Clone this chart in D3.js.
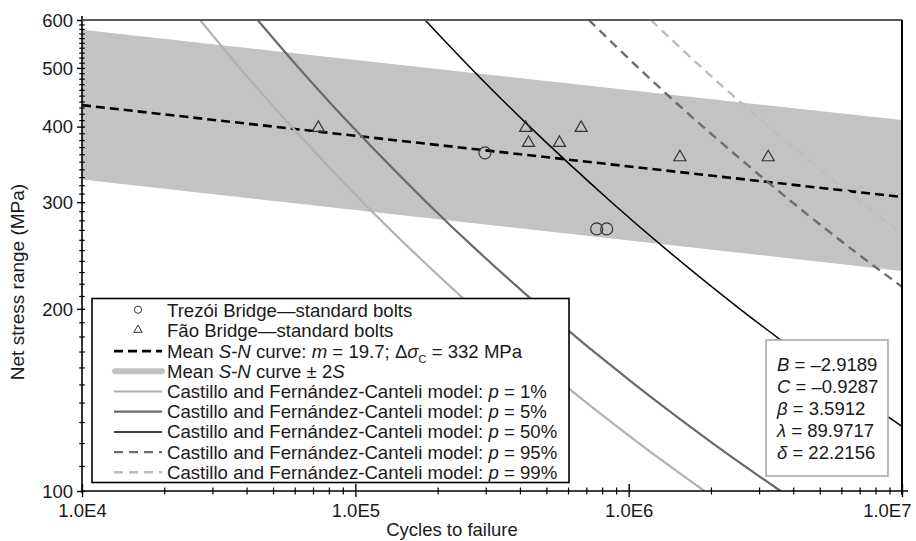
<!DOCTYPE html>
<html>
<head>
<meta charset="utf-8">
<script src="https://cdn.jsdelivr.net/npm/d3@7"></script>
<style>
  html, body { margin: 0; padding: 0; background: #fff; }
  svg { display: block; font-family: "Liberation Sans", Arial, sans-serif; }
</style>
</head>
<body>
<svg id="chart" width="916" height="541"></svg>
<script>
// ---------------- data ----------------
const xTickValues = [1e4, 1e5, 1e6, 1e7];
const xTickLabels = ["1.0E4", "1.0E5", "1.0E6", "1.0E7"];
const yTickValues = [100, 200, 300, 400, 500, 600];
const yTickLabels = ["100", "200", "300", "400", "500", "600"];

// Mean S-N curve and ±2S band (end points)
const bandN = [1e4, 1e7];
const meanS = [434, 306];
const upperS = [578, 410];
const lowerS = [327, 231];

// Test data
const trezoiN = [2.98e5, 7.64e5, 8.31e5];
const trezoiS = [362, 271, 271];
const faoN = [7.32e4, 4.20e5, 4.30e5, 5.58e5, 6.70e5, 1.54e6, 3.24e6];
const faoS = [398, 398, 376, 376, 398, 356, 356];

// Castillo and Fernández-Canteli model percentile curves [N, S]
const curveP1 = [[2.704e4, 600], [3.780e4, 500], [5.834e4, 400], [1.065e5, 300], [1.605e5, 250], [2.737e5, 200], [5.783e5, 150], [1.088e6, 120], [1.894e6, 100]];
const curveP5 = [[4.391e4, 600], [6.214e4, 500], [9.745e4, 400], [1.820e5, 300], [2.782e5, 250], [4.842e5, 200], [1.052e6, 150], [2.025e6, 120], [3.595e6, 100]];
const curveP50 = [[1.800e5, 600], [2.641e5, 500], [4.341e5, 400], [8.656e5, 300], [1.382e6, 250], [2.549e6, 200], [6.000e6, 150], [1.0e7, 127.9]];
const curveP95 = [[7.152e5, 600], [1.086e6, 500], [1.868e6, 400], [3.965e6, 300], [6.616e6, 250], [1.0e7, 217.4]];
const curveP99 = [[1.206e6, 600], [1.857e6, 500], [3.251e6, 400], [7.068e6, 300], [1.0e7, 265.9]];

const paramNames = ["B", "C", "β", "λ", "δ"];
const paramValues = ["–2.9189", "–0.9287", "3.5912", "89.9717", "22.2156"];

// ---------------- drawing ----------------
const svg = d3.select("#chart");
const X0 = 82, X1 = 902, Y0 = 491, Y1 = 20;
const x = d3.scaleLog().domain([1e4, 1e7]).range([X0, X1]);
const y = d3.scaleLog().domain([100, 600]).range([Y0, Y1]);

svg.append("defs").append("clipPath").attr("id", "plotclip")
  .append("rect").attr("x", X0).attr("y", Y1).attr("width", X1 - X0).attr("height", Y0 - Y1);

const plot = svg.append("g").attr("clip-path", "url(#plotclip)");

// band
const bandData = bandN.map((n, i) => ({ n, lo: lowerS[i], hi: upperS[i] }));
plot.append("path")
  .datum(bandData)
  .attr("fill", "#c3c3c3")
  .attr("d", d3.area().x(d => x(d.n)).y0(d => y(d.lo)).y1(d => y(d.hi)));

// mean line
plot.append("path")
  .datum(bandN.map((n, i) => [n, meanS[i]]))
  .attr("fill", "none").attr("stroke", "#000").attr("stroke-width", 2.6)
  .attr("stroke-dasharray", "9,5")
  .attr("d", d3.line().x(d => x(d[0])).y(d => y(d[1])));

const curveLine = d3.line().x(d => x(d[0])).y(d => y(d[1])).curve(d3.curveCatmullRom);
const curves = [
  { data: curveP1, color: "#b2b2b2", width: 2.2, dash: null },
  { data: curveP5, color: "#6a6a6a", width: 2.2, dash: null },
  { data: curveP50, color: "#000000", width: 1.5, dash: null },
  { data: curveP95, color: "#6e6e6e", width: 2.4, dash: "9,6" },
  { data: curveP99, color: "#bdbdbd", width: 2.4, dash: "9,6" }
];
curves.forEach(c => {
  plot.append("path").datum(c.data)
    .attr("fill", "none").attr("stroke", c.color).attr("stroke-width", c.width)
    .attr("stroke-dasharray", c.dash)
    .attr("d", curveLine);
});

// markers
plot.selectAll("circle.trezoi").data(trezoiN.map((n, i) => [n, trezoiS[i]])).join("circle")
  .attr("class", "trezoi")
  .attr("cx", d => x(d[0])).attr("cy", d => y(d[1])).attr("r", 6)
  .attr("fill", "none").attr("stroke", "#333").attr("stroke-width", 1.2);

const tri = d3.symbol().type(d3.symbolTriangle).size(64);
plot.selectAll("path.fao").data(faoN.map((n, i) => [n, faoS[i]])).join("path")
  .attr("class", "fao")
  .attr("transform", d => `translate(${x(d[0])},${y(d[1])})`)
  .attr("d", tri)
  .attr("fill", "none").attr("stroke", "#333").attr("stroke-width", 1.2);

// ---------------- axes ----------------
const FS = 18.5;
const xMinor = [];
[1e4, 1e5, 1e6].forEach(b => { for (let k = 2; k <= 9; k++) xMinor.push(b * k); });
const yMinor = [];
for (let v = 110; v < 600; v += 10) if (v % 100 !== 0) yMinor.push(v);

const gxMinor = svg.append("g").attr("transform", `translate(0,${Y0})`)
  .call(d3.axisBottom(x).tickValues(xMinor).tickFormat("").tickSizeOuter(0));
gxMinor.select(".domain").remove();
gxMinor.selectAll(".tick line").attr("y1", -3.5).attr("y2", 3.5).attr("stroke", "#000").attr("stroke-width", 1.2);

const gx = svg.append("g").attr("transform", `translate(0,${Y0})`)
  .call(d3.axisBottom(x).tickValues(xTickValues).tickFormat((d, i) => xTickLabels[i]).tickSizeOuter(0));
gx.select(".domain").attr("d", `M${X0},0H${X1 + 6}`).attr("stroke", "#000").attr("stroke-width", 1.6);
gx.selectAll(".tick line").attr("y1", -7).attr("y2", 6).attr("stroke", "#000").attr("stroke-width", 1.4);
gx.selectAll(".tick text").attr("y", 25.5).attr("dy", 0).attr("font-size", FS)
  .attr("font-family", "Liberation Sans, Arial, sans-serif").attr("fill", "#1a1a1a")
  .attr("text-anchor", (d, i) => i === xTickValues.length - 1 ? "end" : "middle")
  .attr("x", (d, i) => i === xTickValues.length - 1 ? 9 : 0);

const gyMinor = svg.append("g").attr("transform", `translate(${X0},0)`)
  .call(d3.axisLeft(y).tickValues(yMinor).tickFormat("").tickSizeOuter(0));
gyMinor.select(".domain").remove();
gyMinor.selectAll(".tick line").attr("x1", -2.8).attr("x2", 2.8).attr("stroke", "#000").attr("stroke-width", 1.2);

const gy = svg.append("g").attr("transform", `translate(${X0},0)`)
  .call(d3.axisLeft(y).tickValues(yTickValues).tickFormat((d, i) => yTickLabels[i]).tickSizeOuter(0));
gy.select(".domain").attr("d", `M0,${Y0 + 2}V${Y1 - 4}`).attr("stroke", "#000").attr("stroke-width", 1.6);
gy.selectAll(".tick line").attr("x1", -5).attr("x2", 3).attr("stroke", "#000").attr("stroke-width", 1.4);
gy.selectAll(".tick text").attr("x", -9).attr("dy", "0.34em").attr("font-size", FS)
  .attr("font-family", "Liberation Sans, Arial, sans-serif").attr("fill", "#1a1a1a");

// top and right frame
svg.append("line").attr("x1", X0).attr("x2", X1).attr("y1", Y1).attr("y2", Y1)
  .attr("stroke", "#5a5a5a").attr("stroke-width", 2);
svg.append("line").attr("x1", X1).attr("x2", X1).attr("y1", Y1).attr("y2", Y0 + 4)
  .attr("stroke", "#000").attr("stroke-width", 2);

// axis titles
svg.append("text").attr("x", 452).attr("y", 536).attr("text-anchor", "middle")
  .attr("font-size", FS).attr("fill", "#1a1a1a").text("Cycles to failure");
svg.append("text").attr("transform", "translate(24,282) rotate(-90)").attr("text-anchor", "middle")
  .attr("font-size", 19).attr("fill", "#1a1a1a").text("Net stress range (MPa)");

// ---------------- legend ----------------
const lg = svg.append("g");
lg.append("rect").attr("x", 92).attr("y", 298.5).attr("width", 477).attr("height", 184)
  .attr("fill", "#fff").attr("stroke", "#000").attr("stroke-width", 1.6);

const rowY = i => 310.7 + i * 20.2;
const LX0 = 115, LX1 = 162, TX = 167;
const LFS = 18.6;
const legendItems = [
  { type: "circle", parts: [["Trezói Bridge—standard bolts"]] },
  { type: "triangle", parts: [["Fão Bridge—standard bolts"]] },
  { type: "line", color: "#000", width: 2.6, dash: "9,5",
    parts: [["Mean "], ["S-N", "i"], [" curve: "], ["m", "i"], [" = 19.7; Δ"], ["σ", "i"], ["C", "sub"], [" = 332 MPa"]] },
  { type: "band", parts: [["Mean "], ["S-N", "i"], [" curve ± 2"], ["S", "i"]] },
  { type: "line", color: "#b2b2b2", width: 2.2, dash: null, parts: [["Castillo and Fernández-Canteli model: "], ["p", "i"], [" = 1%"]] },
  { type: "line", color: "#6a6a6a", width: 2.2, dash: null, parts: [["Castillo and Fernández-Canteli model: "], ["p", "i"], [" = 5%"]] },
  { type: "line", color: "#000", width: 1.5, dash: null, parts: [["Castillo and Fernández-Canteli model: "], ["p", "i"], [" = 50%"]] },
  { type: "line", color: "#6e6e6e", width: 2.4, dash: "9,6", parts: [["Castillo and Fernández-Canteli model: "], ["p", "i"], [" = 95%"]] },
  { type: "line", color: "#bdbdbd", width: 2.4, dash: "9,6", parts: [["Castillo and Fernández-Canteli model: "], ["p", "i"], [" = 99%"]] }
];
legendItems.forEach((it, i) => {
  const cy = rowY(i);
  if (it.type === "circle") {
    lg.append("circle").attr("cx", 138).attr("cy", cy - 1).attr("r", 3.6)
      .attr("fill", "none").attr("stroke", "#333").attr("stroke-width", 1);
  } else if (it.type === "triangle") {
    lg.append("path").attr("transform", `translate(138,${cy - 1})`)
      .attr("d", d3.symbol().type(d3.symbolTriangle).size(30))
      .attr("fill", "none").attr("stroke", "#333").attr("stroke-width", 1);
  } else if (it.type === "band") {
    lg.append("line").attr("x1", LX0).attr("x2", LX1).attr("y1", cy).attr("y2", cy)
      .attr("stroke", "#c3c3c3").attr("stroke-width", 6).attr("stroke-linecap", "round");
  } else {
    lg.append("line").attr("x1", LX0 - 1).attr("x2", LX1).attr("y1", cy).attr("y2", cy)
      .attr("stroke", it.color).attr("stroke-width", it.width).attr("stroke-dasharray", it.dash);
  }
  const t = lg.append("text").attr("x", TX).attr("y", cy + 6.5).attr("font-size", LFS).attr("fill", "#1a1a1a");
  it.parts.forEach((p, idx) => {
    const s = t.append("tspan").text(p[0]);
    if (p[1] === "i") s.attr("font-style", "italic");
    if (p[1] === "sub") s.attr("font-size", 11).attr("dy", 5);
    if (idx > 0 && it.parts[idx - 1][1] === "sub") s.attr("dy", -5);
  });
});

// ---------------- parameter box ----------------
const pb = svg.append("g");
pb.append("rect").attr("x", 766).attr("y", 340).attr("width", 122).attr("height", 136)
  .attr("fill", "#fff").attr("stroke", "#a8a8a8").attr("stroke-width", 1.6);
paramNames.forEach((nm, i) => {
  const t = pb.append("text").attr("x", 777).attr("y", 370.5 + i * 22).attr("font-size", FS).attr("fill", "#1a1a1a");
  t.append("tspan").attr("font-style", "italic").text(nm);
  t.append("tspan").text(" = " + paramValues[i]);
});
</script>
</body>
</html>
